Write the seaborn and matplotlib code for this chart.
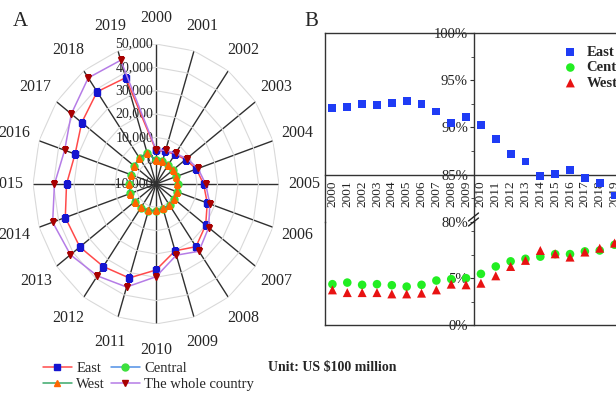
import numpy as np
import matplotlib
matplotlib.use("Agg")
import matplotlib.pyplot as plt
import seaborn as sns
from matplotlib.lines import Line2D
from matplotlib.transforms import ScaledTranslation

# ===== Data =====
years = list(range(2000, 2020))

# Panel A: trade value by region (US $100 million)
east_val = [4368, 4699, 5739, 7863, 10692, 13195, 16284, 19959, 23198, 20110,
            26855, 32340, 33721, 35934, 36520, 33640, 31512, 34787, 38874, 37890]
central_val = [207, 231, 266, 371, 491, 583, 755, 1034, 1307, 1104,
               1624, 2276, 2630, 2940, 3140, 2992, 2790, 3228, 3679, 3922]
west_val = [178, 176, 215, 294, 383, 472, 599, 816, 1118, 947,
            1326, 1912, 2417, 2870, 3424, 3004, 2672, 3199, 3790, 4004]
whole_val = [4743, 5097, 6208, 8510, 11546, 14219, 17604, 21766, 25633, 22075,
             29740, 36419, 38671, 41590, 43015, 39530, 36856, 41071, 46224, 45761]
r_ticks = [-10000, 0, 10000, 20000, 30000, 40000, 50000]
r_labels = ["-10,000", "0", "10,000", "20,000", "30,000", "40,000", "50,000"]

# Panel B: share of each region (%)
east_share = [92.1, 92.2, 92.45, 92.4, 92.6, 92.8, 92.5, 91.7, 90.5, 91.1,
              90.3, 88.8, 87.2, 86.4, 84.9, 85.1, 85.5, 84.7, 84.1, 82.8]
central_share = [4.36, 4.53, 4.29, 4.36, 4.25, 4.1, 4.29, 4.75, 4.9, 5.0,
                 5.46, 6.25, 6.8, 7.07, 7.3, 7.57, 7.57, 7.86, 7.96, 8.57]
west_share = [3.75, 3.46, 3.46, 3.46, 3.32, 3.32, 3.4, 3.75, 4.36, 4.29,
              4.46, 5.25, 6.25, 6.9, 7.96, 7.6, 7.25, 7.79, 8.2, 8.75]

W, H = 616, 394

sns.set_style("white")
plt.rcParams['font.family'] = ['Liberation Serif', 'DejaVu Serif']

fig = plt.figure(figsize=(6.16, 3.94), dpi=100)


def fx(px):
    return px / W


def fy(py):
    return 1 - py / H


# ===== Panel A: radar =====
axA = fig.add_axes([fx(33), fy(324), fx(279) - fx(33), fy(44) - fy(324)], projection='polar')
axA.set_theta_zero_location('N')
axA.set_theta_direction(-1)
axA.set_aspect('auto')

theta = np.linspace(0, 2 * np.pi, len(years), endpoint=False)
theta_c = np.append(theta, theta[0])


def closed(v):
    return np.append(v, v[0])


# polygon grid rings
for r in r_ticks[1:]:
    axA.plot(theta_c, np.full(len(theta_c), r), color='#d9d9d9', lw=0.8, zorder=1)

series = [
    ("East", east_val, '#ff4a4a', 's', '#1515d0'),
    ("Central", central_val, '#4f8fe6', 'o', '#3de03d'),
    ("West", west_val, '#3aa86a', '^', '#ff6600'),
    ("The whole country", whole_val, '#b57ce6', 'v', '#a80000'),
]
handles = {}
for name, vals, lc, mk, mc in series:
    ln, = axA.plot(theta_c, closed(vals), color=lc, lw=1.1, marker=mk, markersize=5,
                   markerfacecolor=mc, markeredgecolor=mc, zorder=3, label=name)
    handles[name] = ln

axA.set_ylim(-10000, 50000)
axA.set_yticks(r_ticks)
axA.set_yticklabels([])
axA.yaxis.grid(False)
axA.xaxis.grid(True, color='#303030', lw=1.0)
axA.spines['polar'].set_visible(False)
axA.set_xticks(theta)
axA.set_xticklabels([str(y) for y in years], fontsize=11.5)
axA.tick_params(axis='x', pad=8)
axA.set_facecolor('none')

# radial labels along the 2000 spoke
off = axA.transData + ScaledTranslation(-2 / 72, 0, fig.dpi_scale_trans)
for r, lab in zip(r_ticks, r_labels):
    axA.text(0, r, lab, transform=off, ha='right', va='center', fontsize=10, zorder=2)

fig.text(fx(13), fy(21), "A", fontsize=15, va='center')

fig.legend(handles=[handles["East"], handles["West"], handles["Central"], handles["The whole country"]],
           loc='lower left', bbox_to_anchor=(fx(34), fy(400)), ncol=2, frameon=False,
           fontsize=10.5, handlelength=2.0, handletextpad=0.3, columnspacing=0.4,
           labelspacing=0.2, borderpad=0.1)
fig.text(fx(268), fy(368), r"Unit: US \$100 million", fontsize=10, fontweight='bold', va='center')

# ===== Panel B: share (broken axis) =====
left, right = fx(325), fx(622)
axT = fig.add_axes([left, fy(222), right - left, fy(33) - fy(222)])
axB = fig.add_axes([left, fy(325), right - left, fy(222) - fy(325)])

sns.scatterplot(x=years, y=east_share, ax=axT, marker='s', color='#1f3cf5', s=32,
                edgecolor='none', label='East', zorder=3)
sns.scatterplot(x=years, y=central_share, ax=axB, marker='o', color='#22ee22', s=38,
                edgecolor='none', label='Central', zorder=3)
sns.scatterplot(x=years, y=west_share, ax=axB, marker='^', color='#e81212', s=42,
                edgecolor='none', label='West', zorder=4)

for ax in (axT, axB):
    ax.set_xlim(1999.5, 2019.5)
    ax.set_facecolor('none')
    ax.set_xlabel("")
    ax.set_ylabel("")
    ax.spines['left'].set_position(('data', 2009.5))
    ax.spines['right'].set_position(('axes', 0.0))
    ax.yaxis.set_ticks_position('left')
    for s in ax.spines.values():
        s.set_color('#333333')
        s.set_linewidth(1.0)
    ax.tick_params(axis='y', which='both', direction='out', labelsize=10.5, pad=1,
                   colors='#333333', labelcolor='#222222')
    ax.tick_params(axis='y', which='major', length=3)
    ax.tick_params(axis='y', which='minor', length=2)

axT.set_ylim(80, 100)
axT.set_yticks([80, 85, 90, 95, 100])
axT.set_yticklabels(["80%", "85%", "90%", "95%", "100%"])
axT.set_yticks([82.5, 87.5, 92.5, 97.5], minor=True)
axT.spines['bottom'].set_position(('data', 85))
axT.set_xticks(years)
axT.set_xticklabels([str(y) for y in years], rotation=90, fontsize=9.5)
axT.set_xticks(np.arange(1999.5, 2020, 1.0), minor=True)
axT.tick_params(axis='x', which='both', direction='out', pad=1, colors='#333333', labelcolor='#222222')
axT.tick_params(axis='x', which='major', length=3)
axT.tick_params(axis='x', which='minor', length=2)

axB.set_ylim(0, 11)
axB.set_yticks([0, 5])
axB.set_yticklabels(["0%", "5%"])
axB.set_yticks([2.5, 7.5, 10], minor=True)
axB.spines['top'].set_visible(False)
axB.set_xticks([])

# break marks on the middle axis
xm = axT.transData.transform((2009.5, 80))[0]
for dy in (-3, 2):
    fig.add_artist(Line2D([fx(xm - 5), fx(xm + 5)], [fy(224 + dy), fy(216 + dy)],
                          color='#222222', lw=1.0))

hT, lT = axT.get_legend_handles_labels()
hB, lB = axB.get_legend_handles_labels()
axB.get_legend().remove()
axT.legend(hT + hB, lT + lB, loc='upper left', bbox_to_anchor=(fx(547), fy(37)),
           bbox_transform=fig.transFigure, frameon=False, prop={'weight': 'bold', 'size': 10.5},
           handletextpad=0.1, labelspacing=0.15, borderpad=0.1)

fig.text(fx(304), fy(22), "B", fontsize=15, va='center')

plt.savefig("out.png", dpi=100)
